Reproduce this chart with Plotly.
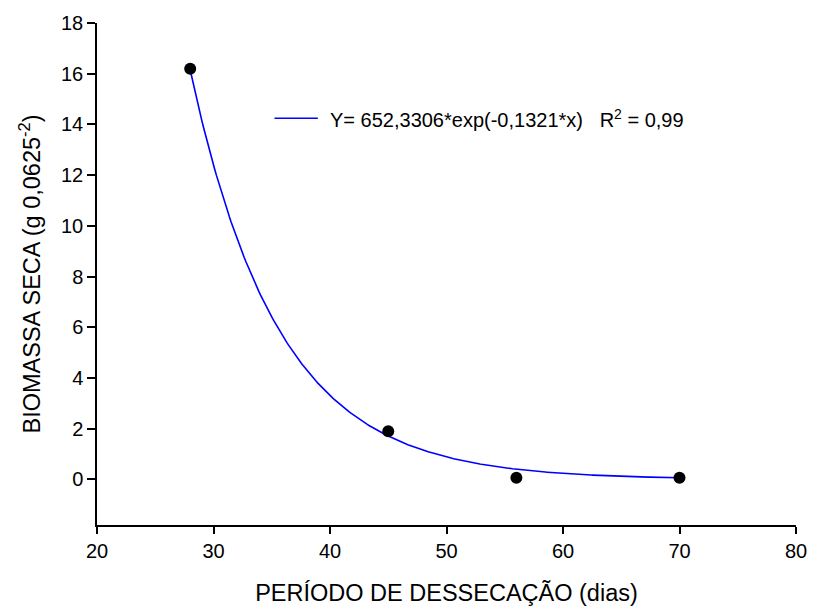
import numpy as np
import plotly.graph_objects as go

# Observed data
dias = [28, 45, 56, 70]
biomassa = [16.2, 1.9, 0.06, 0.06]

# Fitted model shown in chart: Y = a*exp(b*x)
coef_a = 652.3306
coef_b = -0.1321
fit_label = "Y= 652,3306*exp(-0,1321*x)\u00a0\u00a0\u00a0R<sup>2</sup> = 0,99"

x_ticks = [20, 30, 40, 50, 60, 70, 80]
y_ticks = [0, 2, 4, 6, 8, 10, 12, 14, 16, 18]

xf = np.linspace(min(dias), max(dias), 300)
yf = coef_a * np.exp(coef_b * xf)

FONT = "Liberation Sans, Arial, sans-serif"

fig = go.Figure()
fig.add_trace(go.Scatter(x=xf, y=yf, mode="lines",
                         line=dict(color="#0000ff", width=1.6),
                         showlegend=False, hoverinfo="skip"))
fig.add_trace(go.Scatter(x=dias, y=biomassa, mode="markers",
                         marker=dict(color="black", size=12),
                         showlegend=False))

# legend sample line and text
fig.add_shape(type="line", xref="paper", yref="paper",
              x0=(277 - 97) / 709, x1=(321 - 97) / 709,
              y0=(532 - 118) / 511, y1=(532 - 118) / 511,
              line=dict(color="#0000ff", width=1.5))
fig.add_annotation(xref="paper", yref="paper",
                   x=(331 - 97) / 709, y=(532 - 118) / 511,
                   xanchor="left", yanchor="middle", showarrow=False,
                   text=fit_label, font=dict(family=FONT, size=20, color="black"))

fig.update_layout(
    width=819, height=614,
    margin=dict(l=97, r=13, t=21, b=82),
    paper_bgcolor="white", plot_bgcolor="white",
    font=dict(family=FONT, color="black"),
)
fig.update_xaxes(
    range=[20, 80], tickvals=x_ticks, ticks="outside", ticklen=7,
    tickwidth=1.5, tickcolor="black", showline=True, linecolor="black",
    linewidth=1.5, showgrid=False, zeroline=False,
    tickfont=dict(family=FONT, size=20),
    title=dict(text="PERÍODO DE DESSECAÇÃO (dias)",
               font=dict(family=FONT, size=23.5), standoff=24),
)
fig.update_yaxes(
    range=[-1.8, 18], tickvals=y_ticks, ticks="outside", ticklen=8,
    tickwidth=1.5, tickcolor="black", showline=True, linecolor="black",
    linewidth=1.5, showgrid=False, zeroline=False,
    tickfont=dict(family=FONT, size=20),
    title=dict(text="BIOMASSA SECA (g 0,0625<sup>-2</sup>)",
               font=dict(family=FONT, size=23.5), standoff=14),
)

fig.write_html("out.html")
